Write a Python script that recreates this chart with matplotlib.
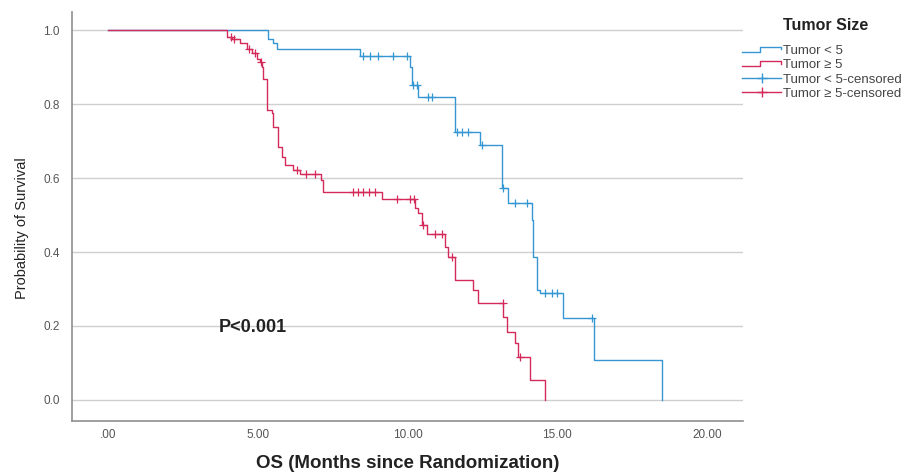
import matplotlib
matplotlib.use("Agg")
import matplotlib.pyplot as plt
from matplotlib.lines import Line2D
from matplotlib.legend_handler import HandlerBase

plt.rcParams['font.family'] = ['Liberation Sans', 'DejaVu Sans']

# Kaplan-Meier step curves: (time, survival after the step)
small_t = [0, 5.35, 5.52, 5.63, 8.41, 10.08, 10.14, 10.36, 11.59, 12.42, 13.14, 13.37,
           14.15, 14.20, 14.31, 14.42, 15.20, 16.21, 18.49]
small_s = [1.0, 0.977, 0.964, 0.950, 0.930, 0.901, 0.851, 0.820, 0.725, 0.689, 0.572, 0.533,
           0.486, 0.387, 0.297, 0.288, 0.221, 0.108, 0.0]
small_cens_t = [8.52, 8.75, 9.03, 9.53, 9.97, 10.19, 10.31, 10.70, 10.81, 11.64, 11.81, 12.03,
                12.48, 13.20, 13.59, 13.98, 14.59, 14.81, 14.98, 16.15]
small_cens_s = [0.930, 0.930, 0.930, 0.930, 0.930, 0.851, 0.851, 0.820, 0.820, 0.725, 0.725, 0.725,
                0.689, 0.572, 0.533, 0.533, 0.288, 0.288, 0.288, 0.221]

large_t = [0, 3.96, 4.13, 4.41, 4.63, 4.80, 4.96, 5.08, 5.13, 5.19, 5.30, 5.46, 5.52, 5.69, 5.80,
           5.91, 6.19, 6.41, 7.10, 7.19, 9.14, 10.25, 10.36, 10.47, 10.64, 11.25, 11.36, 11.59,
           12.20, 12.36, 13.20, 13.31, 13.59, 13.70, 14.09, 14.59]
large_s = [1.0, 0.982, 0.975, 0.964, 0.950, 0.937, 0.923, 0.914, 0.901, 0.869, 0.784, 0.775, 0.739,
           0.685, 0.658, 0.636, 0.622, 0.612, 0.595, 0.563, 0.542, 0.520, 0.505, 0.473, 0.450,
           0.414, 0.387, 0.324, 0.297, 0.261, 0.225, 0.185, 0.153, 0.117, 0.054, 0.0]
large_cens_t = [4.10, 4.20, 4.70, 4.90, 5.10, 6.30, 6.60, 6.90, 8.19, 8.36, 8.52, 8.70, 8.91,
                9.64, 10.08, 10.20, 10.53, 10.92, 11.14, 11.47, 13.18, 13.76]
large_cens_s = [0.982, 0.975, 0.950, 0.937, 0.914, 0.622, 0.612, 0.612, 0.563, 0.563, 0.563, 0.563,
                0.563, 0.542, 0.542, 0.542, 0.473, 0.450, 0.450, 0.387, 0.261, 0.117]

x_ticks = [0, 5, 10, 15, 20]
x_ticklabels = ['.00', '5.00', '10.00', '15.00', '20.00']
y_ticks = [0.0, 0.2, 0.4, 0.6, 0.8, 1.0]
y_ticklabels = ['0.0', '0.2', '0.4', '0.6', '0.8', '1.0']
legend_labels = ['Tumor < 5', 'Tumor \u2265 5', 'Tumor < 5-censored', 'Tumor \u2265 5-censored']

blue = '#3596d4'
red = '#d42a5a'


class StepHandler(HandlerBase):
    # legend glyph shaped like the SPSS step line
    def create_artists(self, legend, orig_handle, xdescent, ydescent, width, height, fontsize, trans):
        x0, w, h = -xdescent, width, height
        y0 = -ydescent
        xs = [x0, x0 + 0.45 * w, x0 + 0.45 * w, x0 + w, x0 + w]
        ys = [y0 + 0.2 * h, y0 + 0.2 * h, y0 + 0.8 * h, y0 + 0.8 * h, y0 + 0.5 * h]
        ln = Line2D(xs, ys, color=orig_handle.get_color(), lw=1.0, transform=trans)
        return [ln]


fig = plt.figure(figsize=(9.2, 4.75), dpi=100)
ax = fig.add_axes([0.0783, 0.1137, 0.7293, 0.861])

for yv in y_ticks:
    ax.axhline(yv, color='#cfcfcf', lw=1.0, zorder=0)

ax.step(small_t, small_s, where='post', color=blue, lw=1.0, zorder=2)
ax.plot(small_cens_t, small_cens_s, ls='none', marker='+', ms=5.5, mew=0.9, color=blue, zorder=3)
ax.step(large_t, large_s, where='post', color=red, lw=1.0, zorder=4)
ax.plot(large_cens_t, large_cens_s, ls='none', marker='+', ms=5.5, mew=0.9, color=red, zorder=5)

ax.set_xlim(-1.2, 21.2)
ax.set_ylim(-0.057, 1.049)
ax.set_xticks(x_ticks, x_ticklabels)
ax.set_yticks(y_ticks, y_ticklabels)
ax.tick_params(length=0, labelsize=8.5, labelcolor='#555555')
ax.tick_params(axis='x', pad=6)
ax.tick_params(axis='y', pad=9)

for s in ['top', 'right']:
    ax.spines[s].set_visible(False)
for s in ['left', 'bottom']:
    ax.spines[s].set_color('#8f8f8f')
    ax.spines[s].set_linewidth(1.2)

ax.set_xlabel('OS (Months since Randomization)', fontsize=13.5, fontweight='bold', color='#222222')
ax.xaxis.set_label_coords(0.5, -0.083)
ax.set_ylabel('Probability of Survival', fontsize=10.5, color='#222222')
ax.yaxis.set_label_coords(-0.064, 0.472)

ax.text(4.84, 0.197, 'P<0.001', fontsize=13, fontweight='bold', color='#222222', ha='center', va='center')

h_small = Line2D([], [], color=blue)
h_large = Line2D([], [], color=red)
h_small_c = Line2D([], [], color=blue, marker='+', ms=7, lw=1.0)
h_large_c = Line2D([], [], color=red, marker='+', ms=7, lw=1.0)
fig.text(0.897, 0.947, 'Tumor Size', fontsize=11.5, fontweight='bold', color='#222222',
         ha='center', va='center')
leg = fig.legend([h_small, h_large, h_small_c, h_large_c], legend_labels,
                 loc='upper left', bbox_to_anchor=(0.797, 0.925),
                 frameon=False, fontsize=9.5, handlelength=2.9, handletextpad=0.15,
                 labelspacing=0.15, numpoints=1, borderpad=0.2,
                 handler_map={h_small: StepHandler(), h_large: StepHandler()})
for t in leg.get_texts():
    t.set_color('#444444')

fig.savefig('out.png', dpi=100)
